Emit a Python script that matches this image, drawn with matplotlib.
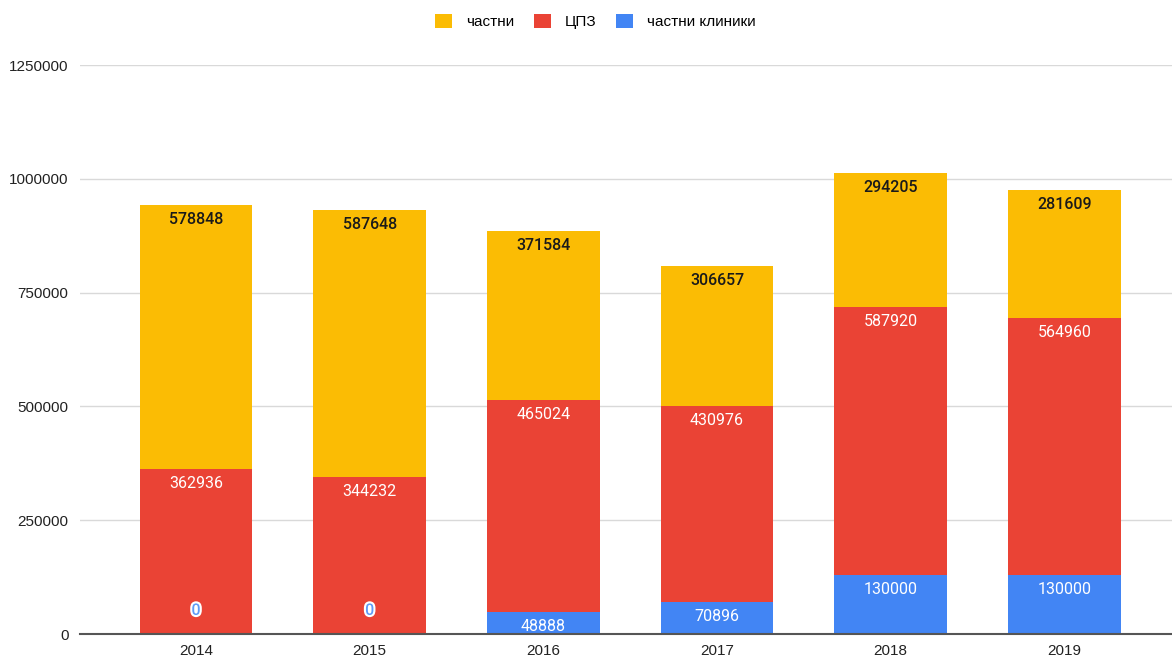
import matplotlib.pyplot as plt
import matplotlib.patheffects as pe
import numpy as np

plt.rcParams['font.family'] = ['Roboto', 'DejaVu Sans']

years = ['2014', '2015', '2016', '2017', '2018', '2019']
clinics = [0, 0, 48888, 70896, 130000, 130000]      # частни клиники
cpz = [362936, 344232, 465024, 430976, 587920, 564960]  # ЦПЗ
private = [578848, 587648, 371584, 306657, 294205, 281609]  # частни

yellow = '#FBBC04'
red = '#EA4335'
blue = '#4285F4'

fig = plt.figure(figsize=(11.72, 6.57), dpi=100)
ax = fig.add_axes([0.068, 0.035, 0.932, 0.866])

x = np.arange(len(years))
w = 0.65
b1 = ax.bar(x, clinics, w, color=blue, label='частни клиники', zorder=3)
bottom2 = np.array(clinics)
b2 = ax.bar(x, cpz, w, bottom=bottom2, color=red, label='ЦПЗ', zorder=3)
bottom3 = bottom2 + np.array(cpz)
b3 = ax.bar(x, private, w, bottom=bottom3, color=yellow, label='частни', zorder=3)

off = -10.5
fs = 11.5
# labels near top of each segment
for i in range(len(years)):
    if clinics[i] == 0:
        ax.annotate('0', (x[i], 0), xytext=(0, 17), textcoords='offset points',
                    ha='center', va='center', fontsize=fs, color='#5E9BF7', zorder=5,
                    fontweight='medium',
                    path_effects=[pe.withStroke(linewidth=3, foreground='white')])
    else:
        ax.annotate(str(clinics[i]), (x[i], clinics[i]), xytext=(0, off), textcoords='offset points',
                    ha='center', va='center', fontsize=fs, color='white', zorder=5)
    ax.annotate(str(cpz[i]), (x[i], bottom3[i]), xytext=(0, off), textcoords='offset points',
                ha='center', va='center', fontsize=fs, color='white', zorder=5)
    ax.annotate(str(private[i]), (x[i], bottom3[i] + private[i]), xytext=(0, off),
                textcoords='offset points', ha='center', va='center', fontsize=fs,
                color='#1a1a1a', zorder=5, fontweight='medium')

ax.set_ylim(0, 1250000)
ax.set_xlim(-0.67, 5.62)
ax.set_yticks([0, 250000, 500000, 750000, 1000000, 1250000])
ax.set_yticklabels(['0', '250000', '500000', '750000', '1000000', '1250000'])
ax.set_xticks(x)
ax.set_xticklabels(years)
for lab in ax.get_xticklabels() + ax.get_yticklabels():
    lab.set_fontfamily(['Liberation Sans', 'DejaVu Sans'])
ax.tick_params(axis='both', length=0, labelsize=11, colors='#222222')
ax.tick_params(axis='y', pad=8)
ax.tick_params(axis='x', pad=7)
ax.grid(axis='y', color='#d9d9d9', linewidth=1, zorder=0)
for s in ['top', 'right', 'left']:
    ax.spines[s].set_visible(False)
ax.spines['bottom'].set_color('#555555')
ax.spines['bottom'].set_linewidth(1.5)
ax.spines['bottom'].set_zorder(4)

leg = fig.legend(handles=[b3, b2, b1], labels=['частни', 'ЦПЗ', 'частни клиники'],
                 loc='upper center', bbox_to_anchor=(0.508, 1.0), ncol=3, frameon=False,
                 prop={'family': ['Liberation Sans', 'DejaVu Sans'], 'size': 11},
                 handlelength=1.1, handleheight=1.1, columnspacing=1.3,
                 handletextpad=0.9)

plt.savefig('out.png', dpi=100)
